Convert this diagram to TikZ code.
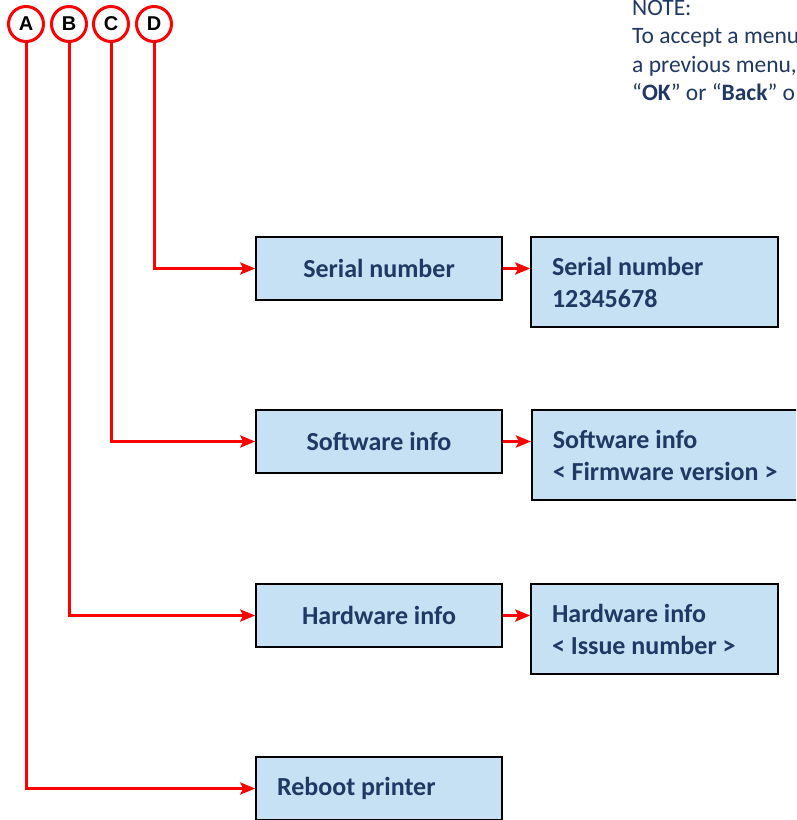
\documentclass[tikz,border=0pt]{standalone}
\usepackage{fontspec}
\setmainfont{Carlito}
\newfontfamily\letterfont{Liberation Sans}
\usepackage{tikz}
\usetikzlibrary{calc,arrows.meta}
\definecolor{menublue}{RGB}{198,225,243}
\definecolor{menutext}{RGB}{31,56,100}
\tikzset{
  menubox/.style={draw=black,line width=1.5pt,fill=menublue,text=menutext,font=\fontsize{26}{32}\selectfont\bfseries,minimum width=246pt,minimum height=63pt,inner sep=0pt},
  infobox/.style={menubox,align=flush left,minimum height=90pt,inner xsep=21pt,text width=205pt},
  tag/.style={circle,draw=red,line width=3pt,fill=white,minimum size=35pt,inner sep=0pt,font=\letterfont\fontsize{20}{20}\selectfont\bfseries},
  link/.style={red,line width=3pt,-{Stealth[length=15pt,width=12pt,inset=3pt]}}
}

\begin{document}
\begin{tikzpicture}[x=1pt,y=-1pt]
              \useasboundingbox (0,0) rectangle (796,820);
              \clip (0,0) rectangle (796,820);
              % letters
              \node[tag](A)at(26,24){A};
              \node[tag](B)at(69,24){B};
              \node[tag](C)at(111,24){C};
              \node[tag](D)at(154,24){D};
              % menu entries
              \node[menubox](sn)at(379,268.5){Serial number};
              \node[menubox](sw)at(379,441.5){Software info};
              \node[menubox](hw)at(379,615.5){Hardware info};
              \node[menubox,align=flush left,text width=204pt,inner xsep=21pt](rb)at(379,788.5){Reboot printer};
              % displayed values
              \node[infobox](snv)at(654.5,282){Serial number\\12345678};
              \node[infobox,text width=270pt,anchor=west](swv)at(531,455){Software info\\< Firmware version >};
              \node[infobox](hwv)at(654.5,629){Hardware info\\< Issue number >};
              \draw[link] (D.south) |- (sn.west);
              \draw[link] (C.south) |- (sw.west);
              \draw[link] (B.south) |- (hw.west);
              \draw[link] (A.south) |- (rb.west);
              \draw[link] (sn.east) -- (sn.east -| snv.west);
              \draw[link] (sw.east) -- (sw.east -| swv.west);
              \draw[link] (hw.east) -- (hw.east -| hwv.west);
              \node[anchor=base west,align=flush left,text=menutext,font=\fontsize{23.5}{28.5}\selectfont,inner sep=0pt](note)at(632,100.5){NOTE:\\To accept a menu\\a previous menu,\\“\textbf{OK}” or “\textbf{Back}” o};
            \end{tikzpicture}
\end{document}
